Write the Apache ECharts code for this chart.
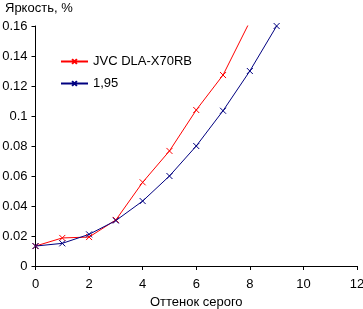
<!DOCTYPE html>
<html>
<head>
<meta charset="utf-8">
<script src="https://cdn.jsdelivr.net/npm/echarts@6/dist/echarts.min.js"></script>
<style>
  html, body { margin: 0; padding: 0; background: #fff; }
  #chart { width: 363px; height: 309px; }
</style>
</head>
<body>
<div id="chart"></div>
<script>
// gray level steps
var steps = [0, 1, 2, 3, 4, 5, 6, 7, 8, 9];
var jvcValues = [0.0133, 0.0187, 0.0193, 0.0307, 0.0558, 0.0767, 0.104, 0.1273, 0.163];
var gammaValues = [0.0133, 0.0151, 0.0211, 0.0303, 0.0433, 0.060, 0.080, 0.1035, 0.130, 0.160];
var seriesNames = ['JVC DLA-X70RB', '1,95'];
var seriesColors = ['#ff0000', '#000080'];

var font = 'Liberation Sans, Arial, sans-serif';
var cross = 'path://M0,0L10,10M10,0L0,10';

function pairs(vals) {
    var out = [];
    for (var i = 0; i < vals.length; i++) {
        out.push([steps[i], vals[i]]);
    }
    return out;
}

function makeSeries(idx, vals) {
    return {
        name: seriesNames[idx],
        type: 'line',
        data: pairs(vals),
        symbol: cross,
        symbolSize: 6,
        showSymbol: true,
        lineStyle: { color: seriesColors[idx], width: 1 },
        itemStyle: { color: seriesColors[idx], borderColor: seriesColors[idx], borderWidth: 1 },
        emphasis: { disabled: true },
        clip: true
    };
}

var chart = echarts.init(document.getElementById('chart'), null, { renderer: 'canvas' });
chart.setOption({
    animation: false,
    backgroundColor: '#ffffff',
    textStyle: { fontFamily: font },
    title: {
        text: 'Яркость, %',
        left: 0,
        top: -3,
        textStyle: { fontFamily: font, fontSize: 13, fontWeight: 'normal', color: '#000' }
    },
    legend: {
        orient: 'vertical',
        left: 55,
        top: 50,
        itemWidth: 27,
        itemHeight: 6,
        itemGap: 9,
        textStyle: { fontFamily: font, fontSize: 13, color: '#000' },
        data: seriesNames
    },
    grid: { left: 35.5, right: 6, top: 26, bottom: 43, containLabel: false, outerBoundsMode: 'none' },
    xAxis: {
        type: 'value',
        min: 0,
        max: 12,
        interval: 2,
        name: 'Оттенок серого',
        nameLocation: 'middle',
        nameGap: 30,
        nameTextStyle: { fontFamily: font, fontSize: 13, color: '#000' },
        axisLine: { lineStyle: { color: '#000', width: 1 } },
        axisTick: { show: true, length: 4, lineStyle: { color: '#000' } },
        axisLabel: { fontFamily: font, fontSize: 13, color: '#000', margin: 12 },
        splitLine: { show: false }
    },
    yAxis: {
        type: 'value',
        min: 0,
        max: 0.16,
        interval: 0.02,
        axisLine: { show: true, lineStyle: { color: '#000', width: 1 } },
        axisTick: { show: true, length: 4, lineStyle: { color: '#000' } },
        axisLabel: { fontFamily: font, fontSize: 13, color: '#000', margin: 8 },
        splitLine: { show: false }
    },
    series: [makeSeries(0, jvcValues), makeSeries(1, gammaValues)]
});
</script>
</body>
</html>
